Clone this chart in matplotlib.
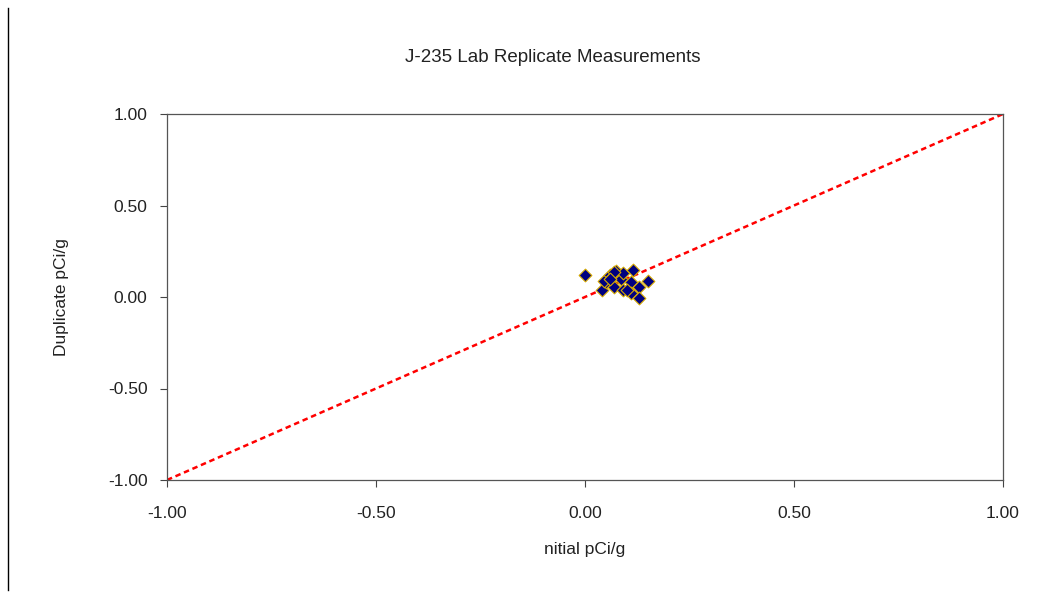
import matplotlib.pyplot as plt
from matplotlib.lines import Line2D

plt.rcParams["font.family"] = ["Liberation Sans", "DejaVu Sans"]

# replicate pairs (initial, duplicate)
initial = [0.00, 0.04, 0.05, 0.045, 0.06, 0.065, 0.07, 0.075, 0.085, 0.09,
           0.09, 0.11, 0.11, 0.115, 0.13, 0.13, 0.15, 0.10, 0.07, 0.06]
duplicate = [0.12, 0.04, 0.08, 0.09, 0.12, 0.11, 0.055, 0.14, 0.10, 0.13,
             0.04, 0.08, 0.02, 0.15, 0.055, -0.005, 0.09, 0.04, 0.135, 0.10]
ticks = [-1.0, -0.5, 0.0, 0.5, 1.0]
tick_labels = ["-1.00", "-0.50", "0.00", "0.50", "1.00"]

fig = plt.figure(figsize=(10.52, 5.92), dpi=100)
ax = fig.add_axes([167 / 1052, 1 - 480 / 592, 836 / 1052, 366 / 592])

ax.plot([-1, 1], [-1, 1], color="#ff0000", linestyle=(0, (2.2, 1.5)),
        linewidth=1.8, zorder=2)
ax.scatter(initial, duplicate, marker="D", s=42, color="#000080",
           edgecolors="#d4a800", linewidths=0.8, zorder=3)

ax.set_xlim(-1, 1)
ax.set_ylim(-1, 1)
ax.set_xticks(ticks)
ax.set_xticklabels(tick_labels)
ax.set_yticks(ticks)
ax.set_yticklabels(tick_labels)
ax.tick_params(direction="out", length=5, width=0.8, color="#444444",
               labelsize=12.5, labelcolor="#222222")
ax.tick_params(axis="x", pad=14)
ax.tick_params(axis="y", pad=9)
for spine in ax.spines.values():
    spine.set_color("#555555")
    spine.set_linewidth(0.9)

ax.set_xlabel("nitial pCi/g", fontsize=12.5, color="#222222", labelpad=15)
ax.set_ylabel("Duplicate pCi/g", fontsize=12.5, color="#222222", labelpad=28)
fig.text(553 / 1052, 1 - 57 / 592, "J-235 Lab Replicate Measurements",
         ha="center", va="center", fontsize=13.5, color="#222222")

# left page border
fig.add_artist(Line2D([8 / 1052, 8 / 1052], [2 / 592, 584 / 592],
                      color="black", linewidth=1.0))

fig.savefig("out.png", dpi=100)
